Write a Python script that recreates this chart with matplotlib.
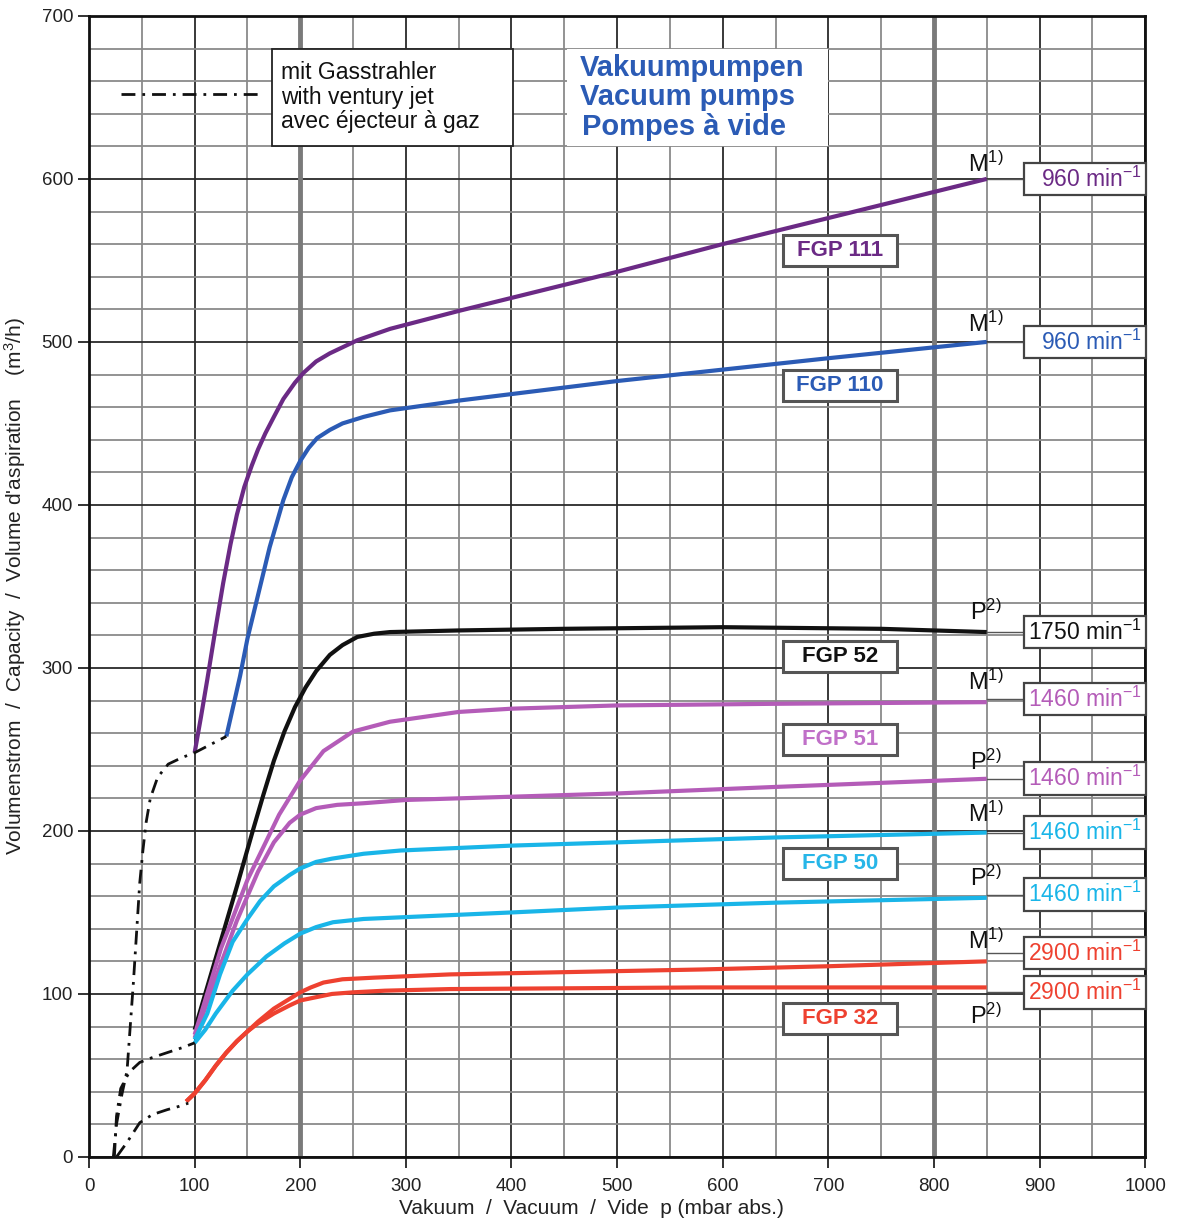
import matplotlib
matplotlib.use("Agg")
import matplotlib.pyplot as plt
from matplotlib.patches import Rectangle

plt.rcParams['font.family'] = ['Liberation Sans', 'DejaVu Sans']
plt.rcParams['mathtext.fontset'] = 'custom'
plt.rcParams['mathtext.rm'] = 'Liberation Sans'
plt.rcParams['mathtext.it'] = 'Liberation Sans:italic'
plt.rcParams['mathtext.bf'] = 'Liberation Sans:bold'

# ---------------- data ----------------
fgp111_x = [100, 106, 112, 120, 127, 134, 140, 147, 154, 160, 167, 175, 184, 195, 203, 215, 228, 254, 285, 350, 400, 500, 600, 700, 850]
fgp111_y = [248, 270, 293, 325, 352, 376, 394, 411, 424, 434, 444, 454, 465, 475, 481, 488, 493, 501, 508, 519, 527, 543, 560, 576, 600]

fgp110_x = [130, 136, 143, 150, 159, 171, 184, 192, 200, 208, 216, 228, 240, 260, 285, 350, 400, 500, 600, 700, 850]
fgp110_y = [258, 275, 295, 318, 342, 374, 403, 417, 427, 435, 441, 446, 450, 454, 458, 464, 468, 476, 483, 490, 500]

fgp52_x = [100, 120, 140, 155, 165, 175, 185, 195, 205, 215, 228, 240, 254, 270, 285, 350, 450, 600, 750, 850]
fgp52_y = [78, 122, 166, 200, 222, 243, 261, 276, 288, 298, 308, 314, 319, 321, 322, 323, 324, 325, 324, 322]

fgp51m_x = [100, 125, 150, 165, 180, 200, 222, 250, 285, 350, 400, 500, 650, 850]
fgp51m_y = [75, 128, 170, 190, 210, 231, 249, 261, 267, 273, 275, 277, 278, 279]

fgp51p_x = [100, 120, 140, 160, 175, 190, 200, 215, 235, 260, 300, 400, 500, 650, 850]
fgp51p_y = [73, 110, 145, 175, 193, 205, 210, 214, 216, 217, 219, 221, 223, 227, 232]

fgp50m_x = [100, 112, 124, 136, 150, 162, 175, 190, 200, 215, 230, 260, 295, 400, 500, 650, 850]
fgp50m_y = [72, 88, 112, 132, 146, 157, 166, 173, 177, 181, 183, 186, 188, 191, 193, 196, 199]

fgp50p_x = [100, 110, 120, 136, 150, 168, 185, 200, 215, 231, 260, 295, 400, 500, 650, 850]
fgp50p_y = [70, 78, 88, 102, 112, 123, 131, 137, 141, 144, 146, 147, 150, 153, 156, 159]

fgp32m_x = [92, 100, 110, 120, 130, 140, 150, 160, 175, 190, 200, 210, 222, 240, 270, 342, 500, 579, 700, 850]
fgp32m_y = [34, 39, 47, 56, 64, 71, 77, 83, 91, 97, 101, 104, 107, 109, 110, 112, 114, 115, 117, 120]

fgp32p_x = [92, 100, 110, 120, 130, 140, 150, 160, 175, 190, 200, 215, 230, 250, 280, 342, 579, 850]
fgp32p_y = [34, 39, 47, 56, 64, 71, 77, 82, 88, 93, 96, 98, 100, 101, 102, 103, 104, 104]

jetA_x = [23, 26, 31, 36, 42, 48, 51, 54, 58, 65, 75, 88, 100, 115, 130]
jetA_y = [0, 20, 38, 53, 107, 168, 188, 205, 220, 233, 241, 245, 248, 253, 258]
jetB_x = [24, 26, 30, 38, 48, 60, 74, 88, 100]
jetB_y = [0, 25, 42, 52, 58, 61, 64, 67, 70]
jetC_x = [26, 36, 48, 60, 74, 85, 94]
jetC_y = [0, 9, 21, 26, 29, 31, 33]

model_names = ['FGP 111', 'FGP 110', 'FGP 52', 'FGP 51', 'FGP 50', 'FGP 32']
model_label_y = [556, 473, 307, 256, 180, 85]
speed_labels = ['960', '960', '1750', '1460', '1460', '1460', '1460', '2900', '2900']
speed_label_y = [600, 500, 322, 281, 232, 199, 161, 125, 101]
mp_labels = ['M', 'M', 'P', 'M', 'P', 'M', 'P', 'M', 'P']
mp_label_y = [609, 511, 334, 291, 242, 210, 171, 132, 86]

x_ticks = [0, 100, 200, 300, 400, 500, 600, 700, 800, 900, 1000]
y_ticks = [0, 100, 200, 300, 400, 500, 600, 700]

# ---------------- colours ----------------
c_purple = '#6b2a85'
c_blue = '#2b5bb5'
c_black = '#111111'
c_mag = '#b45cb8'
c_cyan = '#19b5e8'
c_red = '#ee4130'

fig = plt.figure(figsize=(11.84, 12.23), dpi=100)
ax = fig.add_axes([0.0752, 0.054, 0.892, 0.933])
ax.set_xlim(0, 1000)
ax.set_ylim(0, 700)

ax.set_xticks(x_ticks)
ax.set_yticks(y_ticks)
ax.set_xticks(range(0, 1001, 50), minor=True)
ax.set_yticks(range(0, 701, 20), minor=True)
ax.grid(which='minor', color='#8a8a8a', lw=1.3, zorder=0)
ax.grid(which='major', color='#2a2a2a', lw=1.3, zorder=0)
ax.set_axisbelow(True)
for xv in (200, 800):
    ax.axvline(xv, color='#7a7a7a', lw=3.5, zorder=1)
ax.tick_params(which='minor', length=0)
ax.tick_params(which='major', direction='out', length=8, width=1.3, labelsize=13.5, colors='#222')
ax.tick_params(axis='x', which='major', pad=7)
for s in ax.spines.values():
    s.set_linewidth(2.0)
    s.set_color('#111')

# curves
lw = 3.0
for xs, ys, col in [(fgp111_x, fgp111_y, c_purple), (fgp110_x, fgp110_y, c_blue),
                    (fgp52_x, fgp52_y, c_black), (fgp51m_x, fgp51m_y, c_mag),
                    (fgp51p_x, fgp51p_y, c_mag), (fgp50m_x, fgp50m_y, c_cyan),
                    (fgp50p_x, fgp50p_y, c_cyan), (fgp32m_x, fgp32m_y, c_red),
                    (fgp32p_x, fgp32p_y, c_red)]:
    ax.plot(xs, ys, color=col, lw=lw, zorder=3, solid_capstyle='butt', solid_joinstyle='round')

jet_style = dict(color='#111', lw=2.0, ls=(0, (5, 2.5, 1, 2.5)), zorder=3)
ax.plot(jetA_x, jetA_y, **jet_style)
ax.plot(jetB_x, jetB_y, **jet_style)
ax.plot(jetC_x, jetC_y, **jet_style)

# legend box
ax.add_patch(Rectangle((173, 620), 228, 60, fc='white', ec='#222', lw=1.3, zorder=4))
ax.plot([30, 164], [652, 652], **jet_style)
for t, yy in zip(['mit Gasstrahler', 'with ventury jet', 'avec éjecteur à gaz'], [665, 650, 635]):
    ax.text(182, yy, t, fontsize=16.5, color='#111', va='center', ha='left', zorder=5)

# title block
ax.add_patch(Rectangle((453, 620), 247, 60, fc='white', ec='none', zorder=4))
for t, yy, xx in zip(['Vakuumpumpen', 'Vacuum pumps', 'Pompes à vide'], [668, 650, 632], [465, 465, 467]):
    ax.text(xx, yy, t, fontsize=21, fontweight='bold', color=c_blue, va='center', ha='left', zorder=5)

# model labels
model_colors = [c_purple, c_blue, c_black, '#c070c8', '#27b6e8', c_red]
for name, yy, col in zip(model_names, model_label_y, model_colors):
    ax.add_patch(Rectangle((657, yy - 9.5), 108, 19, fc='white', ec='#555', lw=2.2, zorder=4))
    ax.text(711, yy, name, fontsize=16, fontweight='bold', color=col, va='center', ha='center', zorder=5)

# speed labels
speed_colors = [c_purple, c_blue, c_black, c_mag, c_mag, c_cyan, c_cyan, c_red, c_red]
for sp, yy, col in zip(speed_labels, speed_label_y, speed_colors):
    ax.plot([850, 885], [yy, yy], color='#555', lw=1.0, zorder=3.5)
    ax.add_patch(Rectangle((885, yy - 10), 116, 20, fc='white', ec='#444', lw=1.6, zorder=4, clip_on=False))
    ax.text(997, yy, sp + r' min$^{-1}$', fontsize=16.5, color=col, va='center', ha='right', zorder=5)

# M / P labels
for lab, yy in zip(mp_labels, mp_label_y):
    sup = '1)' if lab == 'M' else '2)'
    ax.text(849, yy, lab + r'$^{' + sup + r'}$', fontsize=17, color='#111', va='center', ha='center', zorder=5)

ax.set_xlabel('Vakuum  /  Vacuum  /  Vide  p (mbar abs.)', fontsize=15, color='#222', labelpad=0)
ax.xaxis.set_label_coords(0.476, -0.037)
ax.set_ylabel("Volumenstrom  /  Capacity  /  Volume d'aspiration    (m$^3$/h)", fontsize=15, color='#222')
ax.yaxis.set_label_coords(-0.058, 0.5)

fig.savefig('out.png', dpi=100, facecolor='white')
